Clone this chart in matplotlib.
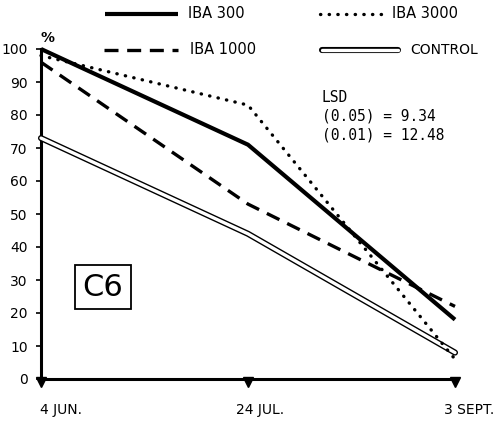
import matplotlib
matplotlib.use("Agg")
import matplotlib.pyplot as plt
import matplotlib.transforms as mtransforms
from matplotlib.lines import Line2D

plt.rcParams['font.family'] = ['Liberation Sans Narrow', 'DejaVu Sans']

# Sampling dates (equally spaced on the axis)
dates = ["4 JUN.", "24 JUL.", "3 SEPT."]

# Rooting percentage per treatment
iba_300 = [100, 71, 18]
iba_1000 = [96, 53, 22]
iba_3000 = [98, 83, 6]
control = [73, 44, 8]

y_ticks = [0, 10, 20, 30, 40, 50, 60, 70, 80, 90, 100]
lsd_lines = ["LSD", "(0.05) = 9.34", "(0.01) = 12.48"]
panel = "C6"

W, H = 502, 421
fig = plt.figure(figsize=(W / 100, H / 100), dpi=100)
ax = fig.add_axes([41 / W, 42 / H, 414 / W, 330 / H])

x = list(range(len(dates)))
ink = "black"

dash_style = (0, (4.2, 2.6))
dot_style = (0, (0.1, 2.5))

ax.plot(x, iba_300, color=ink, lw=3.0, solid_capstyle="butt", clip_on=False, zorder=4)
ax.plot(x, iba_1000, color=ink, lw=2.4, linestyle=dash_style, dash_capstyle="butt",
        clip_on=False, zorder=4)
ax.plot(x, iba_3000, color=ink, lw=2.4, linestyle=dot_style, dash_capstyle="round",
        clip_on=False, zorder=4)
# Control drawn as an outlined (double) line
ax.plot(x, control, color=ink, lw=4.4, solid_capstyle="round", clip_on=False, zorder=3)
ax.plot(x, control, color="white", lw=2.4, solid_capstyle="round", clip_on=False, zorder=3)

ax.set_xlim(0, 2)
ax.set_ylim(0, 100)
for side in ("top", "right"):
    ax.spines[side].set_visible(False)
for side in ("left", "bottom"):
    ax.spines[side].set_linewidth(2.2)
    ax.spines[side].set_capstyle("projecting")

ax.set_yticks(y_ticks)
ax.set_yticklabels([str(v) for v in y_ticks])
ax.tick_params(axis="y", length=3.5, width=1.2, pad=6, labelsize=10)

ax.set_xticks(x)
ax.set_xticklabels(dates)
ax.tick_params(axis="x", length=0, pad=17, labelsize=10)
label_shift = [20, 12, 14]
for lbl, dx in zip(ax.get_xticklabels(), label_shift):
    lbl.set_transform(lbl.get_transform() + mtransforms.ScaledTranslation(dx / 100, 0, fig.dpi_scale_trans))

# Triangle markers hanging beneath the date axis
tri = mtransforms.offset_copy(ax.transData, fig=fig, x=0, y=-3, units="dots")
ax.plot(x, [0] * len(x), linestyle="none", marker="v", ms=7, color=ink,
        transform=tri, clip_on=False, zorder=5)

ax.text(0.0, 1.012, "%", transform=ax.transAxes, fontsize=10, fontweight="bold",
        ha="left", va="bottom")

# LSD annotation
for i, s in enumerate(lsd_lines):
    ax.text(322 / W, 1 - (97 + 19 * i) / H, s, transform=fig.transFigure,
            fontsize=10.5, ha="left", va="center", family=["DejaVu Sans Mono", "DejaVu Sans"])

# Panel label box
fig.text(103 / W, 1 - 287 / H, panel, fontsize=22, ha="center", va="center",
         bbox=dict(boxstyle="square,pad=0.25", fc="white", ec=ink, lw=1.3))

# Legend drawn as two rows above the axes
def sample(x0, x1, yy, **kw):
    fig.add_artist(Line2D([x0 / W, x1 / W], [1 - yy / H, 1 - yy / H], **kw))

y1, y2 = 14, 50
sample(105, 178, y1, color=ink, lw=3.0, solid_capstyle="butt")
fig.text(188 / W, 1 - y1 / H, "IBA 300", fontsize=10.5, ha="left", va="center")
sample(104, 178, y2, color=ink, lw=2.4, linestyle=dash_style, dash_capstyle="butt")
fig.text(190 / W, 1 - y2 / H, "IBA 1000", fontsize=10.5, ha="left", va="center")
sample(320, 388, y1, color=ink, lw=2.4, linestyle=dot_style, dash_capstyle="round")
fig.text(392 / W, 1 - y1 / H, "IBA 3000", fontsize=10.5, ha="left", va="center")
sample(322, 398, y2, color=ink, lw=4.4, solid_capstyle="round")
sample(322, 398, y2, color="white", lw=2.4, solid_capstyle="round")
fig.text(410 / W, 1 - y2 / H, "CONTROL", fontsize=10, ha="left", va="center")

fig.savefig("out.png", dpi=100, facecolor="white")
